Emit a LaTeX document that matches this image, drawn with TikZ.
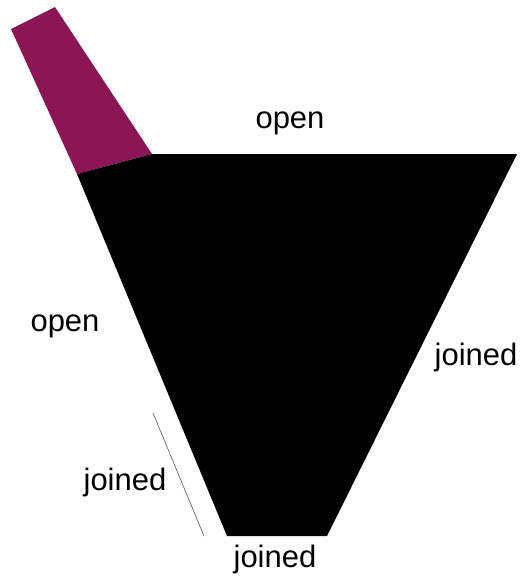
\documentclass[tikz,border=0pt]{standalone}
\usepackage{fontspec}
\setmainfont{Liberation Sans}
\usetikzlibrary{positioning}
\definecolor{plum}{HTML}{8C1556}
\definecolor{rule}{HTML}{555555}

\begin{document}
\begin{tikzpicture}[
    x=1pt,y=-1pt,
    lbl/.style={anchor=base,font=\fontsize{31}{36}\selectfont,inner sep=0pt},
    edge/.style={draw=rule,line width=0.6pt}
]
\useasboundingbox (0,0) rectangle (524,582);
% corners
\coordinate (tl) at (77,174);
\coordinate (tm) at (152,154);
\coordinate (tr) at (517,154);
\coordinate (br) at (327,536);
\coordinate (bl) at (227,536);
\coordinate (pa) at (11,29);
\coordinate (pb) at (55,7);

\fill[plum] (pa) -- (pb) -- (tm) -- (tl) -- cycle;
\fill[black] (tl) -- (tm) -- (tr) -- (br) -- (bl) -- cycle;

\coordinate (ja) at (153,413);
\coordinate (jb) at (204,536);
\draw[edge] (ja) -- (jb);

\node[lbl] (opentop) at (290,128) {open};
\node[lbl] (openleft) at (65,331) {open};
\node[lbl] (joinright) at (476,365) {joined};
\node[lbl] (joinleft) at (125,490) {joined};
\node[lbl] (joinbot) at (275,567) {joined};
\end{tikzpicture}
\end{document}
